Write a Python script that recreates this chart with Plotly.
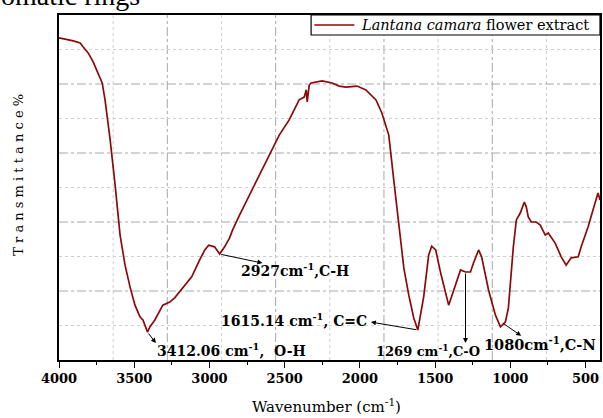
import plotly.graph_objects as go

# FTIR spectrum of Lantana camara flower extract
wavenumber = [4000, 3991, 3905, 3859, 3839, 3806, 3773, 3740, 3713, 3694,
              3660, 3627, 3594, 3561, 3528, 3495, 3462, 3442, 3412, 3396,
              3363, 3310, 3264, 3231, 3177, 3118, 3065, 3031, 3005, 2966,
              2932, 2899, 2866, 2846, 2800, 2734, 2668, 2602, 2536, 2470,
              2404, 2370, 2357, 2350, 2337, 2324, 2251, 2185, 2138, 2092,
              2019, 1960, 1893, 1854, 1808, 1775, 1741, 1708, 1675, 1642,
              1615, 1576, 1543, 1523, 1496, 1463, 1410, 1377, 1331, 1298,
              1265, 1245, 1211, 1191, 1145, 1099, 1066, 1033, 1013, 980,
              960, 934, 907, 894, 881, 861, 828, 801, 768, 748,
              702, 662, 629, 596, 549, 529, 483, 437, 417, 404]
transmittance = [93.3, 93.3, 92.5, 91.9, 90.7, 89.0, 86.4, 83.2, 80.3, 75.4,
                 63.8, 50.7, 36.2, 27.5, 21.2, 15.9, 12.5, 11.6, 8.1, 9.6,
                 11.6, 15.9, 16.8, 18.0, 20.9, 24.1, 29.0, 31.9, 33.3, 32.8,
                 30.7, 32.8, 35.4, 37.7, 42.0, 47.8, 53.6, 59.4, 65.2, 69.6,
                 75.4, 76.2, 78.3, 74.8, 79.7, 80.3, 80.9, 80.3, 79.4, 79.1,
                 79.4, 78.3, 75.4, 71.6, 65.2, 52.2, 38.3, 26.7, 18.8, 12.2,
                 8.7, 18.3, 30.4, 33.0, 31.9, 25.2, 15.9, 20.3, 26.1, 25.5,
                 25.5, 28.1, 31.9, 29.9, 20.3, 13.0, 9.6, 11.0, 15.1, 32.8,
                 40.6, 42.6, 45.8, 44.4, 41.5, 40.0, 40.0, 39.1, 36.2, 36.8,
                 33.9, 29.9, 27.5, 29.6, 29.9, 32.8, 38.6, 45.5, 48.4, 46.4]
series_name = "<i>Lantana camara</i> flower extract"

# Peak assignments: label text, text anchor, arrow tail (on curve), arrow head
peak_labels = ["2927cm<sup>-1</sup>,C-H",
               "3412.06 cm<sup>-1</sup>,  O-H",
               "1615.14 cm<sup>-1</sup>, C=C",
               "1269 cm<sup>-1</sup>,C-O",
               "1080cm<sup>-1</sup>,C-N"]
label_x = [2429, 2853, 2436, 1549, 800]
label_y = [26.1, 2.9, 11.6, 2.9, 4.9]
label_size = [14, 14, 14, 13, 14.5]
tail_x = [2932, 3412, 1615, 1298, 1060]
tail_y = [30.7, 8.1, 8.7, 25.5, 11.0]
head_x = [2648, 3356, 1927, 1298, 928]
head_y = [28.1, 4.9, 11.0, 4.9, 7.0]

x_grid = [3640, 3280, 2920, 2560, 2200, 1840, 1480, 1120, 760]
y_grid = [10, 20, 30, 40, 50, 60, 70, 80, 90]

serif = "DejaVu Serif"
line_color = "#8b0a0a"

fig = go.Figure()
fig.add_trace(go.Scatter(
    x=wavenumber, y=transmittance, mode="lines",
    line=dict(color=line_color, width=1.7),
    name=series_name, showlegend=False,
))

shapes = []
for i, gx in enumerate(x_grid):
    dark = (i % 2 == 1)
    shapes.append(dict(type="line", xref="x", yref="paper", x0=gx, x1=gx, y0=0, y1=1,
                       layer="below",
                       line=dict(color="#a8a8a8" if dark else "#cfcfcf",
                                 width=1, dash="dashdot" if dark else "dot")))
for i, gy in enumerate(y_grid):
    dark = (gy % 20 == 0)
    shapes.append(dict(type="line", xref="paper", yref="y", x0=0, x1=1, y0=gy, y1=gy,
                       layer="below",
                       line=dict(color="#a8a8a8" if dark else "#cfcfcf",
                                 width=1, dash="dashdot" if dark else "dot")))

# compact legend box in the upper-right corner
shapes.append(dict(type="rect", xref="paper", yref="paper",
                   x0=0.466, x1=1.0, y0=0.942, y1=1.0,
                   fillcolor="white", line=dict(color="black", width=1.2)))
shapes.append(dict(type="line", xref="paper", yref="paper",
                   x0=0.472, x1=0.546, y0=0.971, y1=0.971,
                   line=dict(color=line_color, width=1.7)))

annotations = []
annotations.append(dict(x=0.555, y=0.971, xref="paper", yref="paper",
                        xanchor="left", yanchor="middle", text=series_name,
                        showarrow=False,
                        font=dict(family=serif, size=14.5, color="black")))
for hx, hy, tx, ty in zip(head_x, head_y, tail_x, tail_y):
    annotations.append(dict(x=hx, y=hy, ax=tx, ay=ty, xref="x", yref="y",
                            axref="x", ayref="y", text="", showarrow=True,
                            arrowhead=2, arrowsize=1, arrowwidth=1,
                            arrowcolor="black", standoff=0, startstandoff=0))
for txt, lx, ly, fs in zip(peak_labels, label_x, label_y, label_size):
    annotations.append(dict(x=lx, y=ly, xref="x", yref="y", text=txt,
                            showarrow=False,
                            font=dict(family=serif, size=fs, color="black",
                                      weight="bold")))

# axis titles
annotations.append(dict(x=-0.094, y=0.536, xref="paper", yref="paper",
                        text="T r a n s m i t t a n c e %", textangle=-90,
                        showarrow=False,
                        font=dict(family=serif, size=13, color="black")))
annotations.append(dict(x=0.495, y=-0.168, xref="paper", yref="paper",
                        text="Wavenumber (cm<sup>-1</sup>)", showarrow=False,
                        font=dict(family=serif, size=15, color="black")))
# running caption text above the figure
annotations.append(dict(x=-0.1087, y=1.0087, xref="paper", yref="paper",
                        xanchor="left", yanchor="bottom", borderpad=0,
                        text="omatic rings", showarrow=False,
                        font=dict(family="Liberation Serif", size=28,
                                  color="black")))

fig.update_layout(
    width=603, height=418,
    margin=dict(l=59, r=1, t=15, b=58),
    paper_bgcolor="white", plot_bgcolor="white",
    showlegend=False,
    shapes=shapes,
    annotations=annotations,
    xaxis=dict(range=[4000, 404], tick0=500, dtick=500,
               ticks="outside", ticklen=6, tickwidth=1.2, tickcolor="black",
               minor=dict(dtick=250, ticks="outside", ticklen=3,
                          tickwidth=1, tickcolor="black"),
               showgrid=False, zeroline=False,
               showline=True, mirror=True, linecolor="black", linewidth=1.5,
               tickfont=dict(family=serif, size=13, color="black",
                             weight="bold")),
    yaxis=dict(range=[0, 100], showticklabels=False, ticks="",
               showgrid=False, zeroline=False,
               showline=True, mirror=True, linecolor="black", linewidth=1.5),
)

fig.write_html("out.html")
